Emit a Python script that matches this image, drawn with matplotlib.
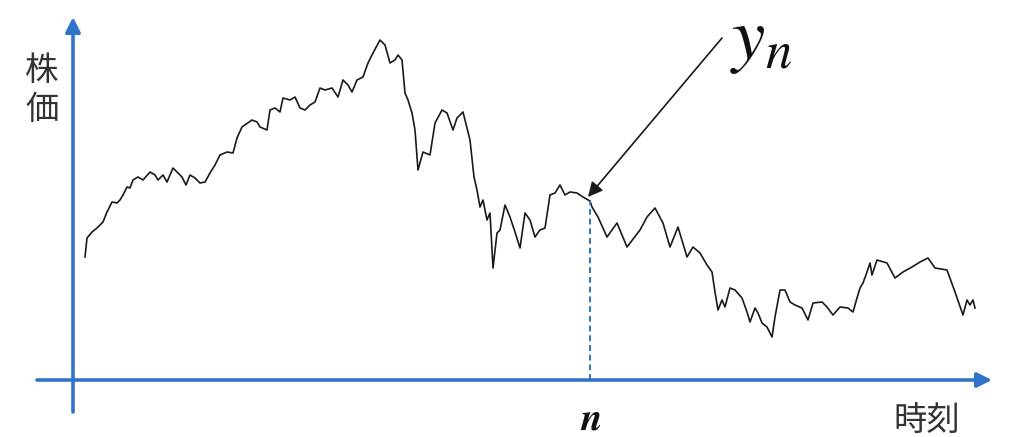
#!/usr/bin/env python3

import matplotlib
matplotlib.use('Agg')
import matplotlib.pyplot as plt

# price path (time step, price)
time_t = [12, 14, 19, 24, 27, 30, 34, 39, 44, 47, 50, 54, 57, 60, 65, 70, 77,
          82, 85, 90, 94, 100, 105, 109, 113, 117, 122, 127, 132, 137, 142,
          147, 154, 160, 164, 169, 179, 184, 187, 194, 197, 202, 207, 210, 217,
          222, 227, 232, 237, 242, 247, 252, 259, 265, 270, 275, 279, 284, 290,
          295, 300, 307, 312, 317, 322, 325, 329, 332, 335, 339, 342, 345, 350,
          357, 362, 369, 374, 380, 384, 390, 397, 401, 404, 407, 410, 414, 417,
          420, 424, 427, 432, 437, 442, 447, 452, 457, 462, 467, 472, 477, 482,
          487, 492, 497, 504, 510, 517, 519, 525, 534, 544, 554, 567, 574, 582,
          590, 597, 605, 614, 620, 627, 634, 639, 642, 645, 649, 652, 657, 662,
          669, 674, 677, 682, 685, 689, 694, 699, 702, 707, 712, 717, 722, 729,
          735, 740, 749, 754, 760, 767, 775, 780, 784, 787, 790, 794, 797, 799,
          804, 814, 822, 830, 839, 847, 855, 862, 874, 882, 890, 894, 897, 900,
          902]
price = [123, 142, 148, 152, 155, 158, 168, 178, 177, 180, 185, 193, 192, 200,
         203, 200, 208, 205, 200, 205, 198, 212, 207, 203, 195, 205, 202, 197,
         198, 207, 215, 225, 228, 227, 242, 253, 260, 258, 253, 250, 270, 272,
         268, 282, 280, 283, 272, 270, 275, 278, 292, 290, 292, 283, 300, 295,
         288, 300, 303, 317, 327, 340, 335, 317, 320, 325, 320, 287, 280, 267,
         250, 210, 228, 225, 257, 270, 267, 250, 262, 268, 240, 203, 190, 173,
         180, 160, 167, 112, 147, 150, 175, 163, 148, 132, 167, 160, 143, 150,
         152, 185, 187, 195, 185, 188, 187, 183, 179, 173, 163, 143, 157, 133,
         150, 163, 172, 157, 133, 153, 123, 133, 127, 115, 108, 88, 70, 80, 73,
         92, 90, 82, 68, 58, 72, 67, 57, 53, 43, 63, 90, 90, 78, 75, 72, 60, 77,
         78, 73, 65, 73, 72, 68, 82, 92, 97, 108, 117, 105, 120, 117, 102, 108,
         113, 118, 122, 112, 110, 88, 65, 80, 75, 80, 72]

n_index = 517
y_label = '株\n価'
x_label = '時刻'

blue = '#2f74c8'
cjk = ['Noto Sans CJK JP', 'DejaVu Sans']
plt.rcParams['mathtext.fontset'] = 'stix'


def main():
    fig = plt.figure(figsize=(10.1, 4.37), dpi=100)
    ax = fig.add_axes([0, 0, 1, 1])
    ax.set_xlim(-73, 937)
    ax.set_ylim(-57, 380)
    ax.axis('off')

    # axes with arrows
    ax.annotate('', xy=(0, 363), xytext=(0, -32),
                arrowprops=dict(arrowstyle='-|>', color=blue, lw=2.6,
                                mutation_scale=22, shrinkA=0, shrinkB=0))
    ax.annotate('', xy=(919, 0), xytext=(-36, 0),
                arrowprops=dict(arrowstyle='-|>', color=blue, lw=2.6,
                                mutation_scale=22, shrinkA=0, shrinkB=0))

    # price path
    ax.plot(time_t, price, color='#1a1a1a', lw=1.2)

    # dashed guide at n
    yn = price[time_t.index(n_index)]
    ax.plot([n_index, n_index], [0, yn], color=blue, lw=1.4, ls=(0, (3, 2)))

    # arrow pointing at y_n
    ax.annotate('', xy=(n_index - 2, yn + 4), xytext=(649, 342),
                arrowprops=dict(arrowstyle='-|>', color='#1a1a1a', lw=1.2,
                                mutation_scale=22, shrinkA=0, shrinkB=0))
    ax.text(657, 340, '$y_n$', fontsize=54, ha='left', va='center', color='#111')
    ax.text(n_index + 1, -40, 'n', fontsize=28, ha='center', va='center',
            family='STIXGeneral', style='italic', weight='bold', color='#111')

    ax.text(-31, 290, y_label, fontsize=24, ha='center', va='center',
            linespacing=1.15, family=cjk, color='#333')
    ax.text(854, -40, x_label, fontsize=24, ha='center', va='center',
            family=cjk, color='#333')

    fig.savefig('out.png', dpi=100)


if __name__ == '__main__':
    main()
